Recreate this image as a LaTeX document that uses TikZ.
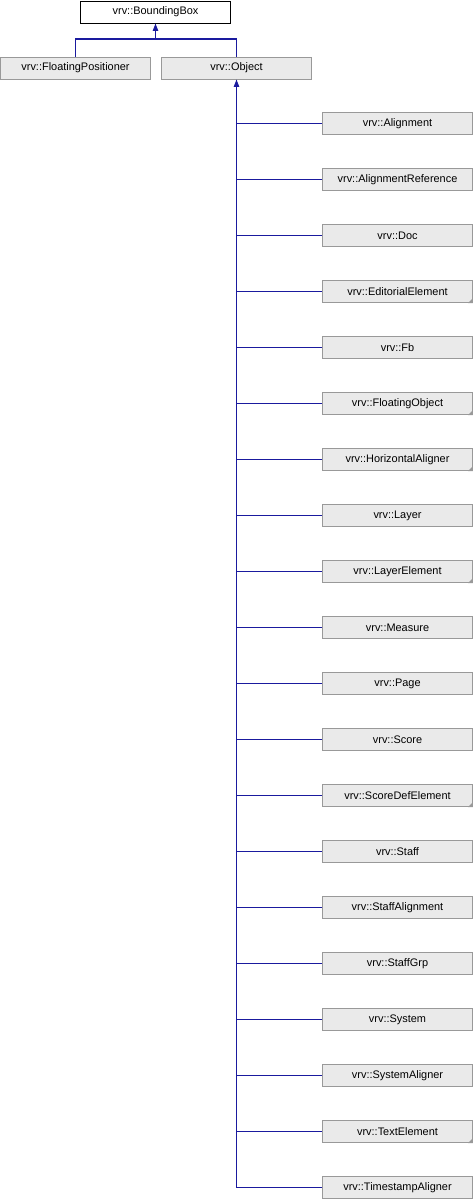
\documentclass[tikz,border=0pt]{standalone}
\usepackage{fontspec}
\setmainfont{Liberation Sans}
\usetikzlibrary{arrows.meta}
\definecolor{edgeblue}{HTML}{1A1A9E}
\definecolor{boxfill}{HTML}{EAEAEA}
\definecolor{boxline}{HTML}{999999}
\tikzset{
  cls/.style={draw=boxline, fill=boxfill, line width=0.75pt, minimum width=150*0.75pt, minimum height=22*0.75pt, inner sep=0pt, font=\fontsize{8.2pt}{9.5pt}\selectfont},
  rootcls/.style={cls, draw=black, fill=white},
  edge/.style={draw=edgeblue, line width=0.8pt},
  arr/.style={edge, -{Triangle[length=5.5pt,width=4pt]}},
}
\begin{document}
\begin{tikzpicture}[x=0.75pt,y=-0.75pt]
\useasboundingbox (0,0) rectangle (473,1200);
\node[rootcls] (bb) at (155.5,12) {vrv::BoundingBox};
\node[cls] (fp) at (75.5,68) {vrv::FloatingPositioner};
\node[cls] (obj) at (236.5,68) {vrv::Object};
\coordinate (j) at (155.5,39);
\draw[edge] (fp.north) |- (j);
\draw[edge] (obj.north) |- (j);
\draw[arr] (j) -- (bb.south);
\foreach \nm/\tri [count=\i] in {Alignment/0,AlignmentReference/0,Doc/0,EditorialElement/1,Fb/0,FloatingObject/1,HorizontalAligner/1,Layer/0,LayerElement/1,Measure/0,Page/0,Score/0,ScoreDefElement/1,Staff/0,StaffAlignment/0,StaffGrp/0,System/0,SystemAligner/0,TextElement/1,TimestampAligner/0}{
  \node[cls] (c\i) at (397.5,{123.5+56*(\i-1)}) {vrv::\nm};
  \ifnum\tri=1
    \fill[boxline] (c\i.south east) -- ++(-5,0) -- ++(5,-5) -- cycle;
  \fi
  \draw[edge] (c\i.west) -| (obj.south);
}
\draw[arr] (236.5,100) -- (obj.south);
\end{tikzpicture}
\end{document}
